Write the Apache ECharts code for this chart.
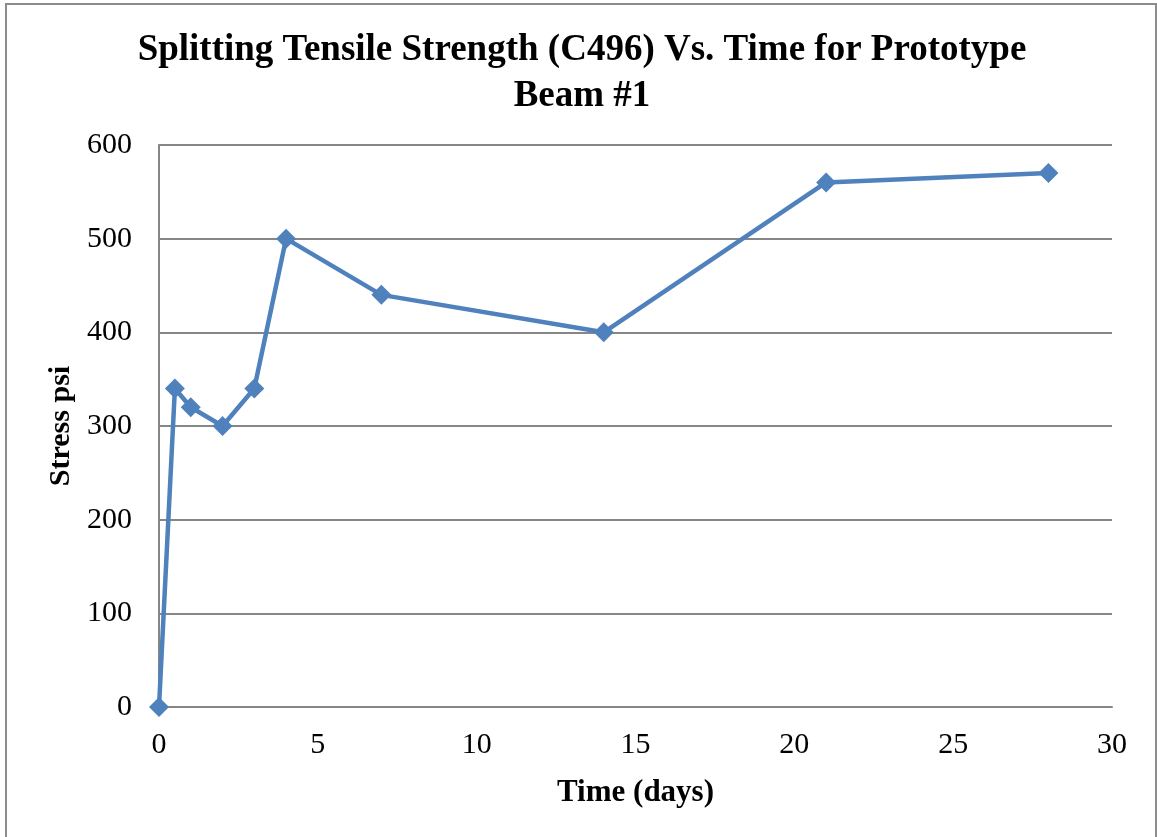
<!DOCTYPE html>
<html>
<head>
<meta charset="utf-8">
<script src="https://cdn.jsdelivr.net/npm/echarts@6/dist/echarts.min.js"></script>
<style>
html,body{margin:0;padding:0;background:#fff;}
#c{width:1157px;height:837px;}
</style>
</head>
<body>
<div id="c"></div>
<script>
const days = [0, 0.5, 1, 2, 3, 4, 7, 14, 21, 28];
const stress = [0, 340, 320, 300, 340, 500, 440, 400, 560, 570];
const xTicks = [0, 5, 10, 15, 20, 25, 30];
const yTicks = [0, 100, 200, 300, 400, 500, 600];
const titleText = 'Splitting Tensile Strength (C496) Vs. Time for Prototype\nBeam #1';

const chart = echarts.init(document.getElementById('c'), null, {renderer: 'canvas'});
const font = '"Liberation Serif", "Times New Roman", serif';
chart.setOption({
  animation: false,
  backgroundColor: '#fff',
  graphic: [{
    type: 'rect', z: -1, silent: true,
    shape: {x: 6, y: 4, width: 1150, height: 900},
    style: {fill: 'none', stroke: '#8c8c8c', lineWidth: 2}
  }],
  title: {
    text: titleText,
    left: 577, top: 22, textAlign: 'center',
    textStyle: {fontFamily: font, fontSize: 37, fontWeight: 'bold', color: '#000', lineHeight: 46}
  },
  grid: {left: 159, right: 45, top: 145, bottom: 130, containLabel: false},
  xAxis: {
    type: 'value', min: xTicks[0], max: xTicks[xTicks.length - 1], interval: 5,
    name: 'Time (days)', nameLocation: 'middle', nameGap: 70,
    nameTextStyle: {fontFamily: font, fontSize: 31, fontWeight: 'bold', color: '#000'},
    axisLine: {show: true, lineStyle: {color: '#868686', width: 2}},
    axisTick: {show: false},
    splitLine: {show: false},
    axisLabel: {fontFamily: font, fontSize: 30, color: '#000', margin: 23}
  },
  yAxis: {
    type: 'value', min: yTicks[0], max: yTicks[yTicks.length - 1], interval: 100,
    name: 'Stress psi', nameLocation: 'middle', nameGap: 82, nameRotate: 90,
    nameTextStyle: {fontFamily: font, fontSize: 30, fontWeight: 'bold', color: '#000'},
    axisLine: {show: true, lineStyle: {color: '#868686', width: 2}},
    axisTick: {show: false},
    splitLine: {show: true, lineStyle: {color: '#868686', width: 2}},
    axisLabel: {fontFamily: font, fontSize: 30, color: '#000', margin: 27}
  },
  series: [{
    type: 'line',
    data: days.map((d, i) => [d, stress[i]]),
    symbol: 'diamond', symbolSize: 20,
    lineStyle: {color: '#4F81BD', width: 4.5},
    itemStyle: {color: '#4F81BD'},
    clip: false
  }]
});
</script>
</body>
</html>
